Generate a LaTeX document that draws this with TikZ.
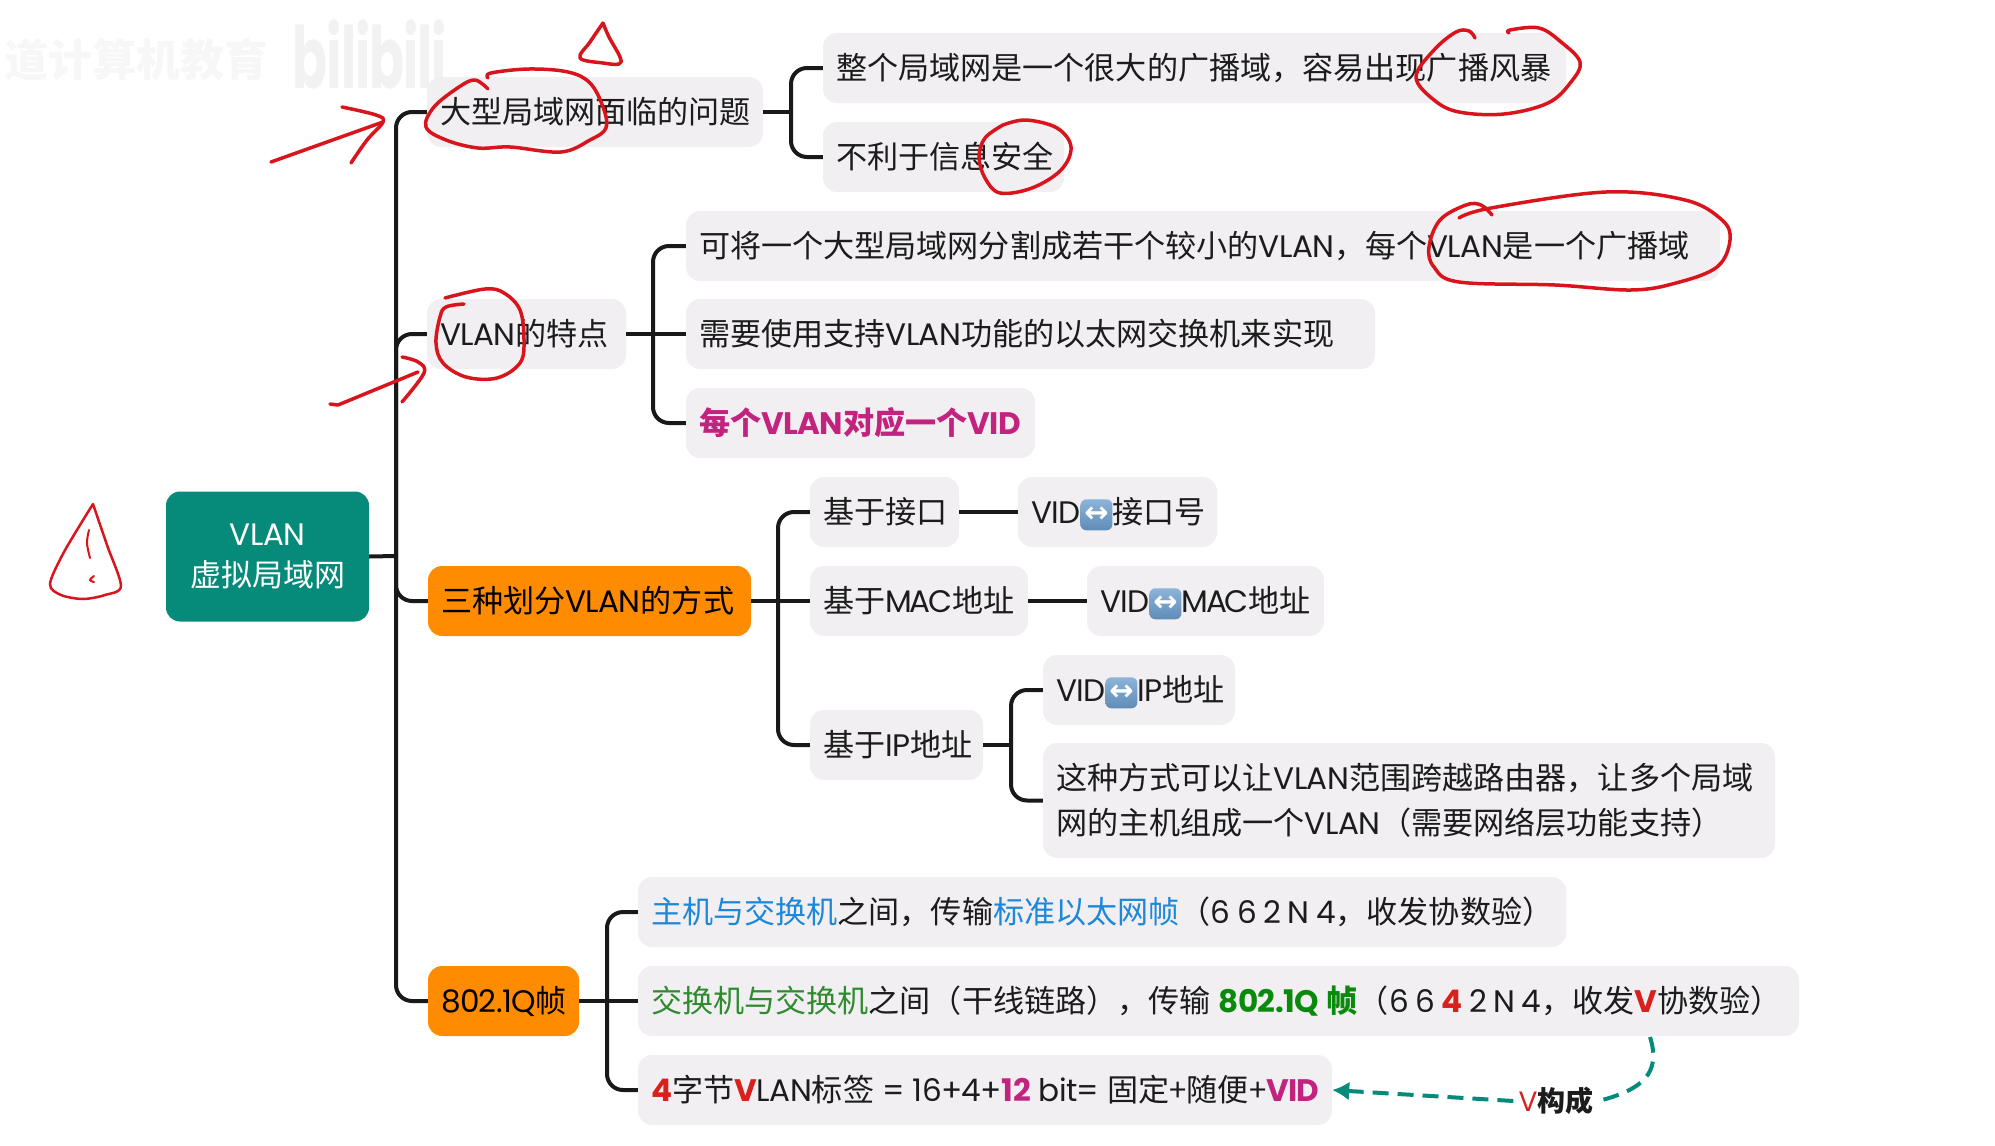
\documentclass[tikz,border=0pt]{standalone}
\usepackage{fontspec}
\usetikzlibrary{arrows.meta}
\setmainfont{Noto Sans CJK SC}
\newfontfamily\lat[LetterSpace=-2]{Poppins}
\newfontfamily\latm[LetterSpace=-7]{Poppins}
\newfontfamily\dej{DejaVu Sans}
\newcommand{\la}[1]{{\lat #1}}
\newcommand{\gp}{\hspace{6.5pt}}
\newcommand{\gq}{\hspace{8pt}}
\definecolor{leaffill}{HTML}{F1EFF2}
\definecolor{rootfill}{HTML}{068A7A}
\definecolor{orangefill}{HTML}{FF8C00}
\definecolor{ink}{HTML}{1C1C1C}
\definecolor{redink}{HTML}{D8141C}
\definecolor{hblue}{HTML}{1E88D8}
\definecolor{hgreen}{HTML}{2E8B2E}
\definecolor{dgreen}{HTML}{0A8A0A}
\definecolor{hred}{HTML}{D8201C}
\definecolor{hmag}{HTML}{C2237F}
\definecolor{emotop}{HTML}{8DB4DA}
\definecolor{emobot}{HTML}{5F8CB6}
\tikzset{
  x=1pt,y=-1pt,
  leaf/.style={fill=leaffill,rounded corners=14pt,minimum height=70pt,inner ysep=0pt,inner xsep=13pt,text=ink,
    text height=26pt,text depth=2.4pt,align=left,font=\fontsize{31.1}{45}\selectfont},
  lw/.style={text width={#1pt-26pt}},
  hot/.style={leaf,fill=orangefill,text=black},
  conn/.style={draw=black!90,line width=4pt,rounded corners=16pt},
  ink/.style={draw=redink,line width=3.5pt,line cap=round,line join=round},
  dashrel/.style={draw=rootfill,line width=4pt,dash pattern=on 16pt off 9pt},
  emobox/.style={top color=emotop,bottom color=emobot,rounded corners=6pt,inner sep=0pt,minimum width=32pt,minimum height=31pt,text=white,font=\dej\bfseries\fontsize{29}{29}\selectfont},
}
\newcommand{\emo}{\tikz[baseline=-9pt,x=1pt,y=1pt]\node[emobox] (em) {↔};}
\begin{document}
\begin{tikzpicture}
\useasboundingbox (0,0) rectangle (1995,1146);
% watermark
\node[text=black!5,anchor=base,xscale=0.6,font=\lat\bfseries\fontsize{86}{86}\selectfont] (wm) at (370,88) {bilibili};
\node[text=black!3,anchor=east,font=\bfseries\fontsize{44}{44}\selectfont] (wt) at (272,60) {道计算机教育};
% nodes
\node[leaf,fill=rootfill,text=white,minimum width=203pt,minimum height=130pt,align=center,text height=,text depth=,font=\fontsize{31}{41}\selectfont] (root) at (267.5,556.5) {\la{VLAN}\\虚拟局域网};
\coordinate (t0) at (396,556);
\node[leaf,lw=336] (n1) at (595,112) {大型局域网面临的问题};
\node[leaf,lw=743] (c1a) at (1194.5,68) {整个局域网是一个很大的广播域，容易出现广播风暴};
\node[leaf,lw=241] (c1b) at (943.5,157) {不利于信息安全};
\node[leaf,lw=199] (n2) at (526.5,334) {\la{VLAN}的特点};
\node[leaf,lw=1034] (c2a) at (1203,246) {可将一个大型局域网分割成若干个较小的\la{VLAN}，每个\la{VLAN}是一个广播域};
\node[leaf,lw=689] (c2b) at (1030.5,334) {需要使用支持\la{VLAN}功能的以太网交换机来实现};
\node[leaf,lw=349,text=hmag,font=\bfseries\fontsize{31.1}{45}\selectfont] (c2c) at (860.5,423) {每个\la{VLAN}对应一个\la{VID}};
\node[hot,lw=323] (n3) at (589.5,601) {三种划分\la{VLAN}的方式};
\node[leaf,lw=149] (d1) at (884.5,512) {基于接口};
\node[leaf,lw=199] (e1) at (1117.5,512) {\la{VID}\emo 接口号};
\node[leaf,lw=218] (d2) at (919,601) {基于{\latm MAC}地址};
\node[leaf,lw=237] (e2) at (1205.5,601) {\la{VID}\emo{\latm MAC}地址};
\node[leaf,lw=173] (d3) at (896.5,745) {基于\la{IP}地址};
\node[leaf,lw=192] (e3) at (1139,690) {\la{VID}\emo\la{IP}地址};
\node[leaf,lw=732,minimum height=115pt,text height=,text depth=] (e4) at (1409,800.5) {这种方式可以让\la{VLAN}范围跨越路由器，让多个局域\\网的主机组成一个\la{VLAN}（需要网络层功能支持）};
\node[hot,lw=151] (n4) at (503.5,1001) {\la{802.1Q}帧};
\node[leaf,lw=928] (f1) at (1102,912) {\mbox{\textcolor{hblue}{主机与交换机}之间，传输\textcolor{hblue}{标准以太网帧}（\la{6\gp 6\gp 2\gp N\gp 4}，收发协数验）}};
\node[leaf,lw=1161] (f2) at (1218.5,1001) {\mbox{\textcolor{hgreen}{交换机与交换机}之间（干线链路），传输\gq\textcolor{dgreen}{\bfseries\la{802.1Q}\gq 帧}（\la{6\gp 6\gp\textcolor{hred}{\bfseries 4}\gp 2\gp N\gp 4}，收发\textcolor{hred}{\bfseries\la{V}}协数验）}};
\node[leaf,lw=694] (f3) at (985,1090) {\mbox{\textcolor{hred}{\bfseries\la{4}}字节\textcolor{hred}{\bfseries\la{V}}\la{LAN}标签\gq\la{=}\gq\la{16+4+}\textcolor{hmag}{\bfseries\la{12}}\gq\la{bit=}\gq 固定+随便+\textcolor{hmag}{\bfseries\la{VID}}}};
\node[text=ink,inner xsep=5pt,inner ysep=0pt,font=\bfseries\fontsize{28}{28}\selectfont] (vl) at (1556,1101) {\textcolor{hred}{\mdseries\la{V}}构成};
% junctions
\coordinate (t1) at (791,112);
\coordinate (t2) at (653,334);
\coordinate (t3) at (778,601);
\coordinate (t4) at (1011,745);
\coordinate (t5) at (607,1001);
\coordinate (vs) at (1650,1037);
% connectors
\draw[conn] (root.east) -- (t0);
\draw[conn] (n1.west) -| (t0);
\draw[conn] (n2.west) -| (t0);
\draw[conn] (n3.west) -| (t0);
\draw[conn] (n4.west) -| (t0);
\draw[conn] (n1.east) -- (t1);
\draw[conn] (c1a.west) -| (t1);
\draw[conn] (c1b.west) -| (t1);
\draw[conn] (n2.east) -- (c2b.west);
\draw[conn] (c2a.west) -| (t2);
\draw[conn] (c2c.west) -| (t2);
\draw[conn] (n3.east) -- (d2.west);
\draw[conn] (d1.west) -| (t3);
\draw[conn] (d3.west) -| (t3);
\draw[conn] (d1.east) -- (e1.west);
\draw[conn] (d2.east) -- (e2.west);
\draw[conn] (d3.east) -- (t4);
\draw[conn] (e3.west) -| (t4);
\draw[conn] (e4.west) -| (t4);
\draw[conn] (n4.east) -- (f2.west);
\draw[conn] (f1.west) -| (t5);
\draw[conn] (f3.west) -| (t5);
% dashed relation
\draw[dashrel] (vs) .. controls (1662,1075) and (1640,1090) .. (vl.east);
\draw[dashrel,-{Latex[length=17pt,width=19pt]}] (vl.west) -- (f3.east);
% hand-drawn red ink
\draw[ink] plot[smooth,tension=0.6] coordinates {(603,23) (590,42) (580,58) (603,63) (619,64) (620,57) (609,37) (603,23)};
\draw[ink] (271,162) -- (383,122);
\draw[ink] plot[smooth,tension=0.6] coordinates {(342,107) (376,115) (383,122) (367,140) (351,163)};
\draw[ink] plot[smooth,tension=0.6] coordinates {(488,78) (491,73) (529,69) (568,72) (590,83) (603,107) (606,128) (590,140) (561,152) (510,147) (478,148) (446,140) (426,127) (434,107) (459,87) (475,80) (488,89)};
\draw[ink] plot[smooth,tension=0.6] coordinates {(445,298) (485,289) (504,293) (520,310) (524,340) (520,363) (497,378) (466,377) (443,363) (436,343) (440,317) (446,307) (464,304)};
\draw[ink] (330,404) -- (338,405) -- (418,372);
\draw[ink] plot[smooth,tension=0.6] coordinates {(402,357) (418,362) (424,373) (402,402)};
\draw[ink,line width=2.5pt] plot[smooth,tension=0.5] coordinates {(93,504) (107,545) (121,586) (105,595) (83,599) (61,595) (50,584) (64,552) (93,504)};
\draw[ink,line width=2pt] plot[smooth,tension=0.6] coordinates {(89,530) (87,543) (90,558)};
\draw[ink,line width=2pt] plot[smooth,tension=0.6] coordinates {(94,576) (90,580) (94,582)};
\draw[ink] plot[smooth,tension=0.6] coordinates {(1475,38) (1469,31) (1456,32) (1434,50) (1416,77) (1434,100) (1459,112) (1504,114) (1548,103) (1571,82) (1580,62) (1561,42) (1539,28) (1510,30) (1509,33)};
\draw[ink] plot[smooth,tension=0.6] coordinates {(1003,125) (1026,120) (1057,128) (1071,147) (1061,170) (1032,188) (1000,193) (985,178) (979,157) (985,138) (1003,125)};
\draw[ink] plot[smooth,tension=0.6] coordinates {(1459,218) (1491,208) (1606,192) (1685,200) (1722,220) (1730,240) (1717,267) (1676,283) (1631,290) (1555,285) (1459,282) (1434,267) (1429,247) (1440,220) (1466,205) (1481,205) (1492,215)};
\end{tikzpicture}
\end{document}
